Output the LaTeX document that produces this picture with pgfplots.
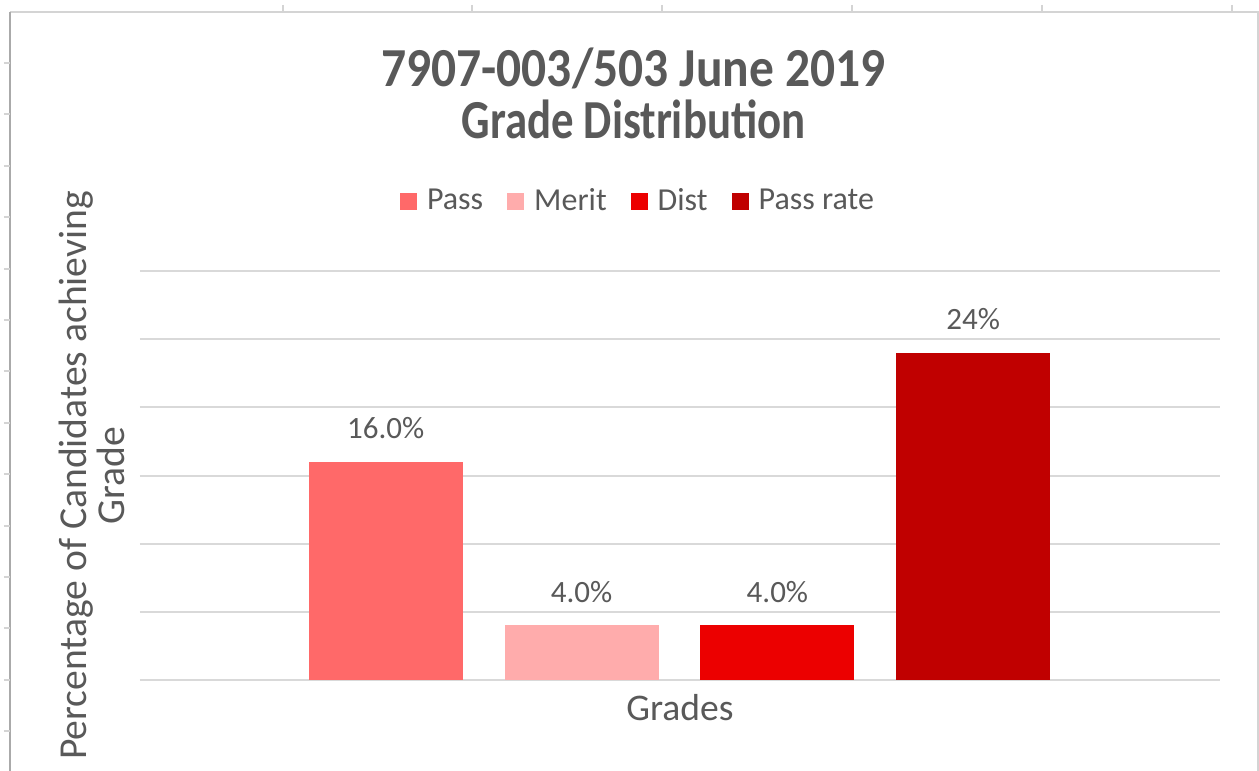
\documentclass[border=0pt]{standalone}
\usepackage{pgfplots}
\pgfplotsset{compat=1.18}
\usepackage{fontspec}
\setmainfont{Carlito}
\definecolor{txt}{RGB}{89,89,89}
\definecolor{gridc}{RGB}{217,217,217}
\definecolor{cpass}{RGB}{255,105,105}
\definecolor{cmerit}{RGB}{255,172,172}
\definecolor{cdist}{RGB}{236,0,0}
\definecolor{crate}{RGB}{192,0,0}
\definecolor{framec}{RGB}{212,212,212}
\definecolor{leftc}{RGB}{170,170,170}
\begin{document}
\begin{tikzpicture}
\begin{axis}[
  name=ax, at={(0,0)}, anchor=south west,
  scale only axis, width=540pt, height=204.5pt,
  ybar, bar shift=0pt, bar width=0.786,
  every axis plot/.append style={legend image code/.code={\fill[##1] (0pt,-4.25pt) rectangle (8.5pt,4.25pt);}},
  xmin=-0.255, xmax=5.26, ymin=0, ymax=30,
  ytick={0,5,...,30}, yticklabels={}, xtick=\empty,
  ymajorgrids, grid style={color=gridc, line width=1pt},
  axis line style={draw=none}, tick style={draw=none},
  /pgf/number format/assume math mode=true,
  xlabel={Grades},
  ylabel={Percentage of Candidates achieving\\Grade},
  xlabel style={at={(axis description cs:0.5,0)}, anchor=center, yshift=-14pt,
    font=\fontsize{18.8}{20}\selectfont, text=txt},
  ylabel style={at={(axis description cs:-0.045,0.5)}, anchor=center, align=center,
    font=\fontsize{19.8}{19}\selectfont, text=txt},
  legend style={at={(axis description cs:0.462,1.171)}, anchor=center, draw=none, fill=none,
    font=\fontsize{16}{17}\selectfont, text=txt,
    /tikz/every even column/.append style={column sep=10pt},
    /tikz/every odd column/.append style={column sep=3pt}},
  legend columns=4,
  every node near coord/.append style={font=\fontsize{15.5}{16}\selectfont, text=txt, anchor=base, yshift=11.5pt},
]
\addplot[fill=cpass, draw=none, nodes near coords={\pgfmathprintnumber[fixed,fixed zerofill,precision=1]{\pgfplotspointmeta}\%}] coordinates {(1,16)};
\addplot[fill=cmerit, draw=none, nodes near coords={\pgfmathprintnumber[fixed,fixed zerofill,precision=1]{\pgfplotspointmeta}\%}] coordinates {(2,4)};
\addplot[fill=cdist, draw=none, nodes near coords={\pgfmathprintnumber[fixed,fixed zerofill,precision=1]{\pgfplotspointmeta}\%}] coordinates {(3,4)};
\addplot[fill=crate, draw=none, nodes near coords={\pgfmathprintnumber[fixed,precision=0]{\pgfplotspointmeta}\%}] coordinates {(4,24)};
\legend{Pass, Merit, Dist, Pass rate}
\end{axis}
\begin{scope}[shift={(-70pt,340pt)}, x=0.5pt, y=-0.5pt]
  \node[anchor=base, text=txt, font=\fontsize{27.5}{28}\selectfont\bfseries] at (633.5,87) {\scalebox{0.9}[1]{7907-003/503 June 2019}};
  \node[anchor=base, text=txt, font=\fontsize{27.5}{28}\selectfont\bfseries] at (633.5,139) {\scalebox{0.815}[1]{Grade Distribution}};
  \draw[framec, line width=1pt] (10,12) -- (1259,12);
  \draw[leftc, line width=1pt] (10,12) -- (10,771);
  \draw[framec, line width=0.6pt] (1258,12) -- (1258,771);
  \foreach \x in {283,472,662,852,1042,1232} \draw[framec, line width=1pt] (\x,5) -- (\x,12);
  \foreach \y in {63,114.4,165.8,217.2,268.6,320,371.4,422.8,474.2,525.6,577,628.4,679.8,731.2} \draw[framec, line width=1pt] (4,\y) -- (10,\y);
  \pgfresetboundingbox
  \useasboundingbox (0,0) rectangle (1259,771);
\end{scope}
\end{tikzpicture}
\end{document}
